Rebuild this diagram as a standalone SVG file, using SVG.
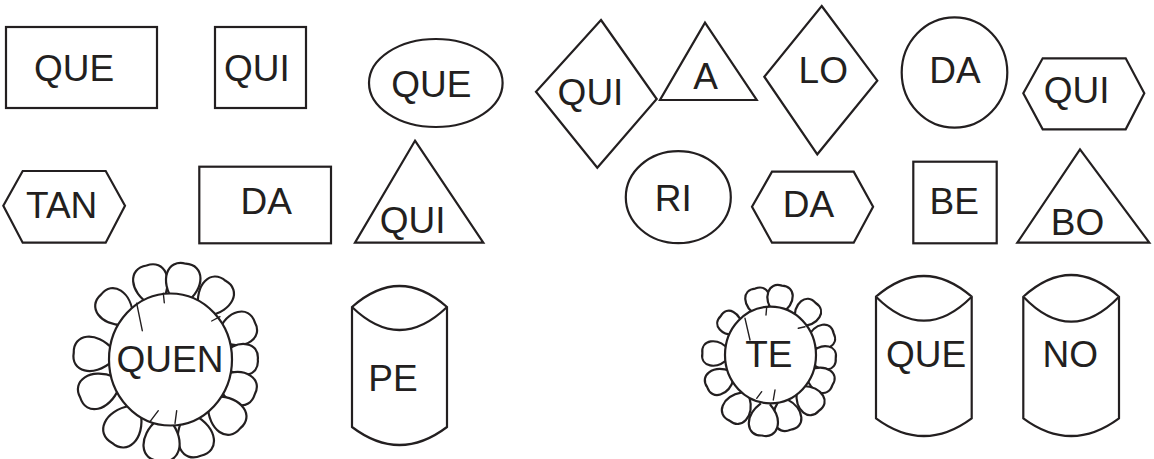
<svg xmlns="http://www.w3.org/2000/svg" xmlns:xlink="http://www.w3.org/1999/xlink" width="1154" height="459" viewBox="0 0 1154 459">
<style>
.s{fill:#fff;stroke:#231f20;stroke-width:2.2;stroke-linejoin:miter}
.p{fill:#fff;stroke:#231f20;stroke-width:2.2;vector-effect:non-scaling-stroke}
.k{fill:none;stroke:#231f20;stroke-width:1.4;stroke-linecap:round}
.t{font-family:"Liberation Sans",Arial,sans-serif;font-size:37px;fill:#231f20;text-anchor:middle}
</style>
<defs>
<path id="pq" class="p" d="M-6,-58 C-24,-76 -19,-99 0,-97 C19,-99 24,-76 6,-58"/>
<path id="pt" class="p" d="M-4,-43 C-18,-56 -14,-73 0,-71 C14,-73 18,-56 4,-43"/>
</defs>
<rect width="1154" height="459" fill="#fff"/>
<g id="connectors"/>
<g id="n-que1"><rect class="s" x="6" y="27" width="151" height="81"/><text class="t" x="74" y="80.7">QUE</text></g>
<g id="n-qui1"><rect class="s" x="215" y="27" width="91" height="81"/><text class="t" x="256.8" y="80.7">QUI</text></g>
<g id="n-que2"><ellipse class="s" cx="435.8" cy="83" rx="66.8" ry="44"/><text class="t" x="431.3" y="96.7">QUE</text></g>
<g id="n-qui2"><polygon class="s" points="601,20 656.7,99 597.3,167.7 536,91.7"/><text class="t" x="590.5" y="105">QUI</text></g>
<g id="n-a"><polygon class="s" points="705,22.7 756.7,100 660,100"/><text class="t" x="705.5" y="89.3">A</text></g>
<g id="n-lo"><polygon class="s" points="821.7,6 877.3,80.7 817.3,154.3 764.3,76.7"/><text class="t" x="823.3" y="82.7">LO</text></g>
<g id="n-da1"><ellipse class="s" cx="954.5" cy="72.5" rx="52.8" ry="55.2"/><text class="t" x="955" y="83.3">DA</text></g>
<g id="n-qui3"><polygon class="s" points="1042.7,58.3 1125.7,58.3 1144.3,93.3 1125.7,129.3 1042.7,129.3 1023.3,93.3"/><text class="t" x="1076.7" y="103.3">QUI</text></g>
<g id="n-tan"><polygon class="s" points="22.7,171 105.7,171 125,205.7 105.7,242.7 22.7,242.7 3.3,205.7"/><text class="t" x="61.7" y="218.3">TAN</text></g>
<g id="n-da2"><rect class="s" x="199.3" y="166.7" width="131.7" height="76.6"/><text class="t" x="266.3" y="214">DA</text></g>
<g id="n-qui4"><polygon class="s" points="415,140.7 483.3,242.7 355,242.7"/><text class="t" x="412.7" y="232.7">QUI</text></g>
<g id="n-ri"><ellipse class="s" cx="678.3" cy="197.2" rx="52.5" ry="46"/><text class="t" x="673.3" y="210.7">RI</text></g>
<g id="n-da3"><polygon class="s" points="772,171.7 853.7,171.7 873.1,206.7 853.7,242.7 772,242.7 752,206.7"/><text class="t" x="808.5" y="216.7">DA</text></g>
<g id="n-be"><rect class="s" x="913.3" y="161.7" width="83.4" height="81.6"/><text class="t" x="954.2" y="214">BE</text></g>
<g id="n-bo"><polygon class="s" points="1080,149.3 1149.3,242.7 1017.3,242.7"/><text class="t" x="1077.5" y="235">BO</text></g>
<g id="n-quen">
<g transform="translate(170.5 359.5)">
<use href="#pq" transform="rotate(-14.3)"/>
<use href="#pq" transform="rotate(9)"/>
<use href="#pq" transform="rotate(35) scale(0.99)"/>
<use href="#pq" transform="rotate(66) scale(0.95)"/>
<use href="#pq" transform="rotate(90) scale(0.9)"/>
<use href="#pq" transform="rotate(112.6) scale(0.94)"/>
<use href="#pq" transform="rotate(134.7) scale(1.01)"/>
<use href="#pq" transform="rotate(162.5) scale(1.04)"/>
<use href="#pq" transform="rotate(186) scale(1.05)"/>
<use href="#pq" transform="rotate(215) scale(1.05)"/>
<use href="#pq" transform="rotate(247) scale(1.01)"/>
<use href="#pq" transform="rotate(274)"/>
<use href="#pq" transform="rotate(313) scale(0.98)"/>
</g>
<ellipse class="s" cx="170.5" cy="359.5" rx="61.5" ry="66"/>
<path class="k" d="M136.7,303.3 L142.3,330.7 M163.3,293.3 L164.3,302.7 M220,316.7 L211.7,321 M158.3,410.7 L150,421.7 M176.7,410.7 L175,423.3"/>
<text class="t" x="170" y="371.7">QUEN</text>
</g>
<g id="n-pe"><path class="s" d="M352,307 Q399.5,265 447,307 L447,427 Q399.5,463 352,427 Z"/><path class="s" fill="none" d="M352,307 Q399.5,353 447,307"/><text class="t" x="393" y="390.7">PE</text></g>
<g id="n-te">
<g transform="translate(770.5 355)">
<use href="#pt" transform="rotate(-13) scale(0.96)"/>
<use href="#pt" transform="rotate(9.3) scale(0.99)"/>
<use href="#pt" transform="rotate(41) scale(0.97)"/>
<use href="#pt" transform="rotate(71) scale(0.94)"/>
<use href="#pt" transform="rotate(93) scale(0.92)"/>
<use href="#pt" transform="rotate(116) scale(0.97)"/>
<use href="#pt" transform="rotate(139) scale(1.04)"/>
<use href="#pt" transform="rotate(165) scale(1.09)"/>
<use href="#pt" transform="rotate(186) scale(1.14)"/>
<use href="#pt" transform="rotate(212) scale(1.09)"/>
<use href="#pt" transform="rotate(243)"/>
<use href="#pt" transform="rotate(271.5) scale(0.96)"/>
<use href="#pt" transform="rotate(308) scale(0.89)"/>
</g>
<ellipse class="s" cx="770.5" cy="355" rx="45.5" ry="48.3"/>
<path class="k" d="M745,318.3 L750,340 M766.7,306.7 L766,315 M805,326.7 L798.3,328.3 M761.7,391.7 L756.7,398.3 M775,390 L773.3,400"/>
<text class="t" x="768.8" y="367.3">TE</text>
</g>
<g id="n-que3"><path class="s" d="M876,296.7 Q923.9,255.3 971.7,296.7 L971.7,418.3 Q923.9,453.7 876,418.3 Z"/><path class="s" fill="none" d="M876,296.7 Q923.9,344.7 971.7,296.7"/><text class="t" x="926.2" y="367.3">QUE</text></g>
<g id="n-no"><path class="s" d="M1023.3,296.7 Q1071.2,253.3 1119,296.7 L1119,418.3 Q1071.2,453.7 1023.3,418.3 Z"/><path class="s" fill="none" d="M1023.3,296.7 Q1071.2,346.7 1119,296.7"/><text class="t" x="1070.3" y="367.3">NO</text></g>
</svg>
